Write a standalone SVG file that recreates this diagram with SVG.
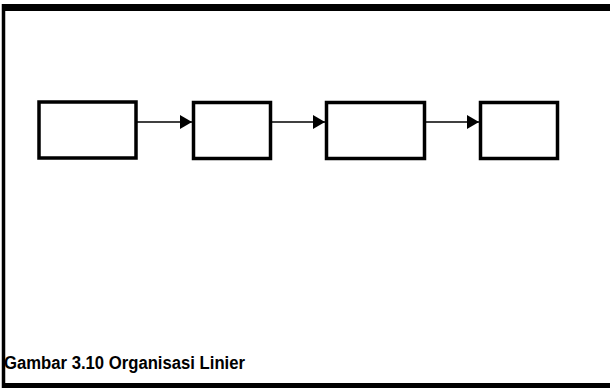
<svg xmlns="http://www.w3.org/2000/svg" width="610" height="388" viewBox="0 0 610 388">
<style>
.box{fill:#fff;stroke:#000;stroke-width:3.5}
.frame{stroke:#000;fill:none}
.conn{stroke:#000;stroke-width:1.6;fill:none}
.cap{font-family:"Liberation Sans",Arial,sans-serif;font-size:18px;font-weight:bold;fill:#000}
</style>
<defs>
<marker id="ah" markerWidth="12" markerHeight="14" refX="12" refY="7" orient="auto" markerUnits="userSpaceOnUse">
<path d="M0,0 L12,7 L0,14 Z" fill="#000"/>
</marker>
</defs>
<rect width="610" height="388" fill="#fff"/>
<g id="frame">
<line class="frame" x1="2" y1="7.5" x2="610" y2="7.5" stroke-width="7"/>
<line class="frame" x1="3.5" y1="4" x2="3.5" y2="388" stroke-width="3.5"/>
<line class="frame" x1="2" y1="385.5" x2="610" y2="385.5" stroke-width="5"/>
</g>
<g id="connectors">
<line class="conn" x1="137" y1="122" x2="192" y2="122" marker-end="url(#ah)"/>
<line class="conn" x1="272" y1="122" x2="325" y2="122" marker-end="url(#ah)"/>
<line class="conn" x1="426" y1="122" x2="479" y2="122" marker-end="url(#ah)"/>
</g>
<g id="n1"><rect class="box" x="39" y="102" width="97" height="56"/></g>
<g id="n2"><rect class="box" x="193.5" y="102.5" width="77" height="56"/></g>
<g id="n3"><rect class="box" x="326.5" y="102.5" width="98" height="56"/></g>
<g id="n4"><rect class="box" x="480.5" y="102.5" width="77" height="56"/></g>
<g id="caption"><text class="cap" x="4" y="368.5" textLength="241" lengthAdjust="spacingAndGlyphs">Gambar 3.10 Organisasi Linier</text></g>
</svg>
